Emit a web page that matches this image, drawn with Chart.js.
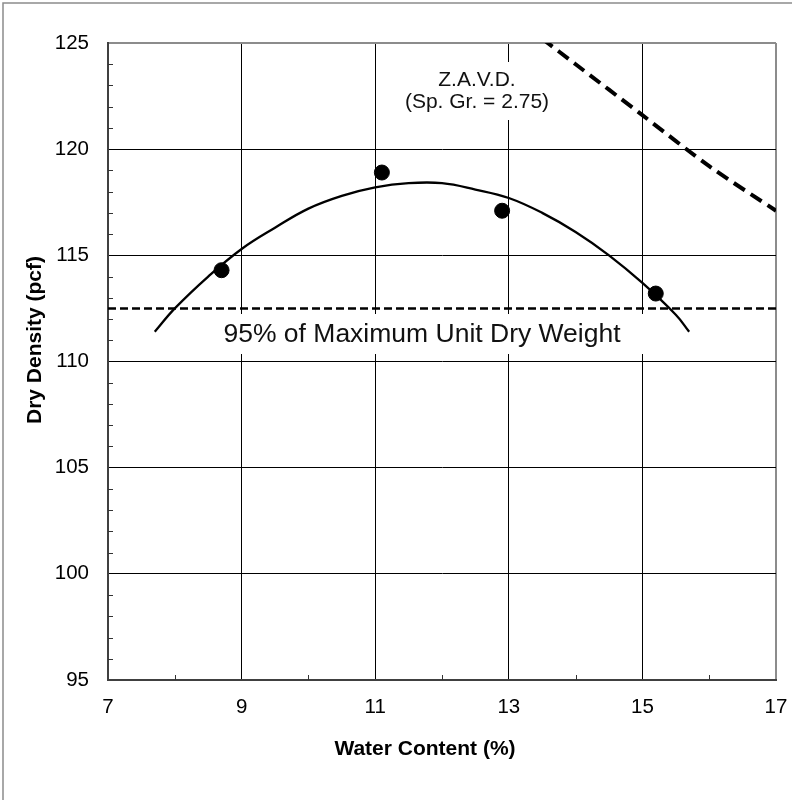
<!DOCTYPE html>
<html>
<head>
<meta charset="utf-8">
<script src="https://cdn.jsdelivr.net/npm/chart.js@4"></script>
<style>
  body { margin: 0; background: #fff; }
  canvas { display: block; }
</style>
</head>
<body>
<canvas id="proctor" width="792" height="800"></canvas>
<script>
// Compaction test points (water content %, dry density pcf)
const testWater = [8.7, 11.1, 12.9, 15.2];
const testDensity = [114.3, 118.9, 117.1, 113.2];

// Fitted curve
const fitWater = [7.7, 8.0, 8.5, 9.0, 9.5, 10.0, 10.5, 11.0, 11.5, 12.0, 12.5, 13.0, 13.5, 14.0, 14.5, 15.0, 15.5, 15.7];
const fitDensity = [111.4, 112.5, 114.0, 115.3, 116.3, 117.2, 117.8, 118.2, 118.4, 118.4, 118.1, 117.7, 117.0, 116.1, 115.0, 113.7, 112.2, 111.4];

// Zero air voids line (Sp. Gr. = 2.75)
const zavdWater = [13.5, 14.0, 15.0, 16.0, 17.0];
const zavdDensity = [125.2, 124.0, 121.6, 119.2, 117.1];

// 95% of maximum unit dry weight
const refWater = [7, 17];
const refDensity = [112.5, 112.5];

const xMin = 7, xMax = 17, yMin = 95, yMax = 125;

const FONT = "'Liberation Sans', Arial, sans-serif";

function toXY(xs, ys) {
    return xs.map((x, i) => ({ x: x, y: ys[i] }));
}

// draws minor ticks, the labels and the axis titles
const extras = {
    id: 'extras',
    beforeDatasetsDraw(chart) {
        // white boxes behind the labels (they hide the gridlines)
        const ctx = chart.ctx;
        ctx.save();
        ctx.fillStyle = '#fff';
        ctx.fillRect(180, 314, 485, 40);
        ctx.fillRect(398, 62, 160, 58);
        ctx.restore();
    },
    afterDatasetsDraw(chart) {
        const ctx = chart.ctx;
        const xs = chart.scales.x, ys = chart.scales.y;
        const area = chart.chartArea;
        ctx.save();

        // minor ticks pointing into the plot
        ctx.strokeStyle = '#333';
        ctx.lineWidth = 1;
        ctx.beginPath();
        for (let v = yMin + 1; v < yMax; v++) {
            if (v % 5 === 0) continue;
            const py = Math.round(ys.getPixelForValue(v)) + 0.5;
            ctx.moveTo(area.left, py);
            ctx.lineTo(area.left + 5, py);
        }
        for (let v = xMin + 1; v < xMax; v += 2) {
            const px = Math.round(xs.getPixelForValue(v)) + 0.5;
            ctx.moveTo(px, area.bottom);
            ctx.lineTo(px, area.bottom - 5);
        }
        ctx.stroke();

        // labels inside the plot
        ctx.fillStyle = '#111';
        ctx.textAlign = 'center';
        ctx.textBaseline = 'middle';
        ctx.font = '26.5px ' + FONT;
        ctx.fillText('95% of Maximum Unit Dry Weight', 422, 335);
        ctx.font = '21px ' + FONT;
        ctx.fillText('Z.A.V.D.', 477, 80);
        ctx.fillText('(Sp. Gr. = 2.75)', 477, 102);

        // axis titles
        ctx.fillStyle = '#000';
        ctx.font = 'bold 21px ' + FONT;
        ctx.fillText('Water Content (%)', 425, 749);
        ctx.translate(35, 340);
        ctx.rotate(-Math.PI / 2);
        ctx.fillText('Dry Density (pcf)', 0, 0);
        ctx.restore();

        // outer frame
        ctx.save();
        ctx.strokeStyle = '#8c8c8c';
        ctx.lineWidth = 1.5;
        ctx.beginPath();
        ctx.moveTo(3, 800);
        ctx.lineTo(3, 3);
        ctx.lineTo(792, 3);
        ctx.stroke();
        ctx.restore();
    }
};

const ctx = document.getElementById('proctor').getContext('2d');

const chart = new Chart(ctx, {
    type: 'scatter',
    data: {
        datasets: [
            {
                label: '95%',
                type: 'line',
                data: toXY(refWater, refDensity),
                borderColor: '#000',
                borderWidth: 2.5,
                borderDash: [8, 4],
                pointRadius: 0,
                fill: false
            },
            {
                label: 'ZAVD',
                type: 'line',
                data: toXY(zavdWater, zavdDensity),
                borderColor: '#000',
                borderWidth: 4,
                borderDash: [13, 7],
                pointRadius: 0,
                tension: 0.3,
                fill: false,
                clip: 0
            },
            {
                label: 'Fit',
                type: 'line',
                data: toXY(fitWater, fitDensity),
                borderColor: '#000',
                borderWidth: 2.3,
                pointRadius: 0,
                tension: 0.4,
                fill: false
            },
            {
                label: 'Tests',
                data: toXY(testWater, testDensity),
                backgroundColor: '#000',
                borderColor: '#000',
                pointRadius: 7.5,
                pointHoverRadius: 7.5
            }
        ]
    },
    options: {
        responsive: false,
        animation: false,
        layout: { padding: { left: 0, top: 43, right: 16, bottom: 0 } },
        plugins: {
            legend: { display: false },
            tooltip: { enabled: false }
        },
        scales: {
            x: {
                type: 'linear',
                min: xMin,
                max: xMax,
                afterFit: (scale) => {
                    scale.height = 120;
                    scale.paddingLeft = 0;
                    scale.paddingRight = 0;
                },
                ticks: {
                    stepSize: 2,
                    padding: 15,
                    color: '#000',
                    font: { family: FONT, size: 20.5 }
                },
                grid: {
                    drawTicks: false,
                    color: (c) => c.tick && c.tick.value === xMax ? '#8c8c8c' : '#000',
                    lineWidth: (c) => c.tick && c.tick.value === xMax ? 2 : 1
                },
                border: { color: '#404040', width: 2 }
            },
            y: {
                type: 'linear',
                min: yMin,
                max: yMax,
                afterFit: (scale) => {
                    scale.width = 108;
                    scale.paddingTop = 0;
                    scale.paddingBottom = 0;
                },
                ticks: {
                    stepSize: 5,
                    padding: 19,
                    color: '#000',
                    font: { family: FONT, size: 20.5 }
                },
                grid: {
                    drawTicks: false,
                    color: (c) => c.tick && c.tick.value === yMax ? '#8c8c8c' : '#000',
                    lineWidth: (c) => c.tick && c.tick.value === yMax ? 2 : 1
                },
                border: { color: '#404040', width: 2 }
            }
        }
    },
    plugins: [extras]
});
</script>
</body>
</html>
